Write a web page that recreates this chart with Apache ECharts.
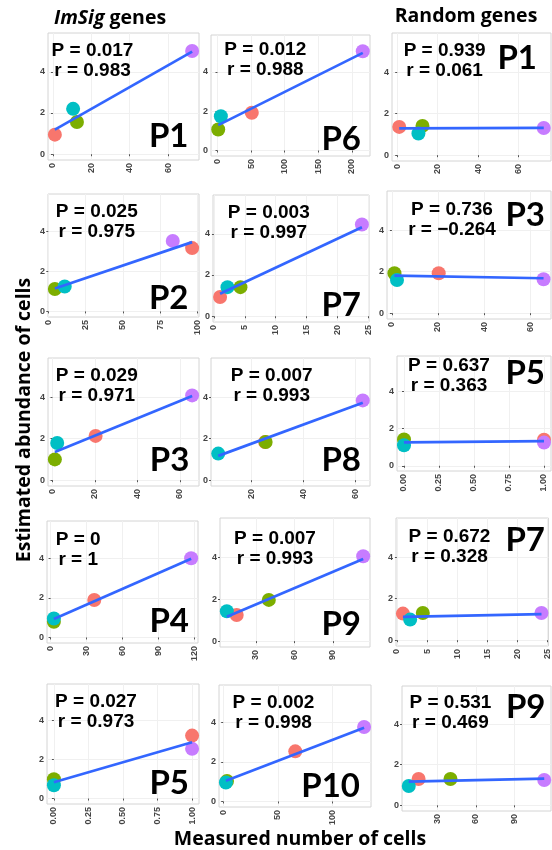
<!DOCTYPE html>
<html>
<head>
<meta charset="utf-8">
<script src="https://cdn.jsdelivr.net/npm/echarts@6/dist/echarts.min.js"></script>
<style>html,body{margin:0;padding:0;background:#fff}#c{width:552px;height:850px}</style>
</head>
<body>
<div id="c"></div>
<script>
// ---------------- DATA ----------------
// point order in every panel: [red, green, cyan, purple]
const pointColors = ['#F8766D', '#7CAE00', '#00BFC4', '#C77CFF'];

// measured number of cells (x) per patient
const measuredP1  = [1.0, 12.5, 10.5, 72.5];
const measuredP2  = [96.5, 4.4, 11.0, 83.5];
const measuredP3  = [20.3, 1.1, 2.2, 65.8];
const measuredP4  = [36.5, 2.7, 2.7, 117.5];
const measuredP5  = [1, 0, 0, 1];
const measuredP6  = [51, 1.1, 5, 216];
const measuredP7  = [1.0, 4.3, 2.2, 24.0];
const measuredP8  = [25.2, 25.4, 7.1, 62.9];
const measuredP9  = [15, 40, 7.3, 113.5];
const measuredP10 = [66, 3.5, 2.5, 129];

// estimated abundance (y), ImSig genes
const imsigP1  = [0.95, 1.56, 2.20, 5.01];
const imsigP2  = [3.17, 1.12, 1.25, 3.53];
const imsigP3  = [2.13, 1.00, 1.79, 4.08];
const imsigP4  = [1.89, 0.79, 0.96, 4.00];
const imsigP5  = [3.23, 0.99, 0.68, 2.55];
const imsigP6  = [1.92, 1.07, 1.74, 5.05];
const imsigP7  = [0.93, 1.41, 1.41, 4.45];
const imsigP8  = [1.84, 1.84, 1.28, 3.84];
const imsigP9  = [1.25, 1.97, 1.43, 4.05];
const imsigP10 = [2.53, 1.03, 0.96, 3.76];

// fitted line ends (y at min x, y at max x), ImSig genes
const imsigFitP1  = [1.19, 4.98];
const imsigFitP2  = [1.15, 3.47];
const imsigFitP3  = [1.36, 4.05];
const imsigFitP4  = [0.93, 3.97];
const imsigFitP5  = [0.835, 2.89];
const imsigFitP6  = [1.29, 4.97];
const imsigFitP7  = [1.09, 4.32];
const imsigFitP8  = [1.17, 3.73];
const imsigFitP9  = [1.17, 3.92];
const imsigFitP10 = [1.05, 3.72];

// estimated abundance (y), Random genes
const randomP1 = [1.36, 1.41, 1.04, 1.31];
const randomP3 = [1.92, 1.92, 1.60, 1.63];
const randomP5 = [1.40, 1.41, 1.10, 1.24];
const randomP7 = [1.28, 1.31, 0.99, 1.31];
const randomP9 = [1.30, 1.30, 0.955, 1.25];

const randomFitP1 = [1.29, 1.31];
const randomFitP3 = [1.81, 1.68];
const randomFitP5 = [1.255, 1.32];
const randomFitP7 = [1.12, 1.25];
const randomFitP9 = [1.17, 1.32];

const imsigPatients = ['P1','P2','P3','P4','P5','P6','P7','P8','P9','P10'];
const imsigPValues = ['0.017','0.025','0.029','0','0.027','0.012','0.003','0.007','0.007','0.002'];
const imsigRValues = ['0.983','0.975','0.971','1','0.973','0.988','0.997','0.993','0.993','0.998'];
const randomPatients = ['P1','P3','P5','P7','P9'];
const randomPValues = ['0.939','0.736','0.637','0.672','0.531'];
const randomRValues = ['0.061','\u22120.264','0.363','0.328','0.469'];

// x tick values per patient
const xTicksP1  = [0, 20, 40, 60];
const xTicksP2  = [0, 25, 50, 75, 100];
const xTicksP3  = [0, 20, 40, 60];
const xTicksP4  = [0, 30, 60, 90, 120];
const xTicksP5  = [0, 0.25, 0.5, 0.75, 1];
const xTicksP6  = [0, 50, 100, 150, 200];
const xTicksP7  = [0, 5, 10, 15, 20, 25];
const xTicksP8  = [20, 40, 60];
const xTicksP9  = [30, 60, 90];
const xTicksP10 = [0, 50, 100];
const yTicks = [0, 2, 4];
const yLimits = [0, 5.6];

const titleImsig = 'ImSig';
const titleGenes = ' genes';
const titleRandom = 'Random genes';
const xTitle = 'Measured number of cells';
const yTitle = 'Estimated abundance of cells';

// ---------------- LOOKUPS ----------------
const measured = {P1:measuredP1,P2:measuredP2,P3:measuredP3,P4:measuredP4,P5:measuredP5,P6:measuredP6,P7:measuredP7,P8:measuredP8,P9:measuredP9,P10:measuredP10};
const xTicks = {P1:xTicksP1,P2:xTicksP2,P3:xTicksP3,P4:xTicksP4,P5:xTicksP5,P6:xTicksP6,P7:xTicksP7,P8:xTicksP8,P9:xTicksP9,P10:xTicksP10};
const imsigEst = {P1:imsigP1,P2:imsigP2,P3:imsigP3,P4:imsigP4,P5:imsigP5,P6:imsigP6,P7:imsigP7,P8:imsigP8,P9:imsigP9,P10:imsigP10};
const imsigFit = {P1:imsigFitP1,P2:imsigFitP2,P3:imsigFitP3,P4:imsigFitP4,P5:imsigFitP5,P6:imsigFitP6,P7:imsigFitP7,P8:imsigFitP8,P9:imsigFitP9,P10:imsigFitP10};
const randomEst = {P1:randomP1,P3:randomP3,P5:randomP5,P7:randomP7,P9:randomP9};
const randomFit = {P1:randomFitP1,P3:randomFitP3,P5:randomFitP5,P7:randomFitP7,P9:randomFitP9};

// ---------------- LAYOUT ----------------
// [left, top, right, bottom, statsX, statsLine1Y, labelRight, labelY]
const layout = [
  [48, 33, 199, 160,  92.5, 50.3, 188.5, 136.5],
  [211, 35, 370, 156, 265.3, 50.0, 361, 139],
  [392, 33, 551, 161, 444.6, 50.3, 537, 58.3],
  [48, 194, 199, 317,  96.8, 212, 188.5, 298.7],
  [213, 195, 369, 322, 268.8, 213, 361, 305],
  [387, 191, 551, 319, 452, 210, 545, 215],
  [48, 358, 199, 486,  96.8, 375.3, 189.4, 460.3],
  [211, 358, 370, 486, 271.7, 375.3, 361, 460.5],
  [397, 356, 551, 471, 449, 365.3, 545, 373.3],
  [47, 521, 198, 643,  78.2, 540, 189, 621],
  [220, 518, 370, 647, 275, 538.3, 361, 624],
  [396, 518, 551, 646, 449.5, 537, 545, 540.7],
  [47, 684, 199, 804,  96, 701.7, 189, 783],
  [219, 685, 371, 807, 273.5, 702.5, 360, 786],
  [402, 686, 551, 811, 450.4, 702.5, 545.5, 707.5]
];

const panels = [];
for (let r = 0; r < 5; r++) {
  panels.push({kind:'imsig', idx:r});
  panels.push({kind:'imsig', idx:r + 5});
  panels.push({kind:'random', idx:r});
}

const grids = [], xAxes = [], yAxes = [], series = [], graphics = [];
const statFont = 'bold 19px "Liberation Sans", Arial, sans-serif';
const labelFont = 'bold 33px Lato, "Open Sans", sans-serif';
const tickFont = {fontFamily:'"Liberation Sans", Arial, sans-serif', fontWeight:'bold', fontSize:9, color:'#444'};

const yExp = (yLimits[1] - yLimits[0]) * 0.05;

panels.forEach((p, i) => {
  const L = layout[i];
  const pid = p.kind === 'imsig' ? imsigPatients[p.idx] : randomPatients[p.idx];
  const xs = measured[pid];
  const ys = p.kind === 'imsig' ? imsigEst[pid] : randomEst[pid];
  const fit = p.kind === 'imsig' ? imsigFit[pid] : randomFit[pid];
  const pv = p.kind === 'imsig' ? imsigPValues[p.idx] : randomPValues[p.idx];
  const rv = p.kind === 'imsig' ? imsigRValues[p.idx] : randomRValues[p.idx];
  const xmin = Math.min(...xs), xmax = Math.max(...xs);
  const exp = (xmax - xmin) * 0.05;
  const ticks = xTicks[pid];
  const dec = pid === 'P5' ? 2 : 0;

  grids.push({left:L[0], top:L[1], width:L[2]-L[0], height:L[3]-L[1], show:true,
    borderColor:'#D4D4D4', borderWidth:1, backgroundColor:'#fff', containLabel:false});
  xAxes.push({type:'value', gridIndex:i, min:xmin-exp, max:xmax+exp,
    axisLine:{show:false},
    axisTick:{show:true, length:2, lineStyle:{color:'#555'}, customValues:ticks},
    axisLabel:{customValues:ticks, rotate:90, margin:3, ...tickFont,
      formatter:v => Number(v).toFixed(dec)},
    splitLine:{show:true, lineStyle:{color:'#F0F0F0', width:1}}});
  yAxes.push({type:'value', gridIndex:i, min:yLimits[0]-yExp, max:yLimits[1]+yExp,
    axisLine:{show:false},
    axisTick:{show:true, length:2, lineStyle:{color:'#555'}, customValues:yTicks},
    axisLabel:{customValues:yTicks, margin:3, ...tickFont},
    splitLine:{show:true, lineStyle:{color:'#F0F0F0', width:1}}});

  series.push({type:'scatter', xAxisIndex:i, yAxisIndex:i, symbolSize:14, z:2, silent:true,
    data: xs.map((x, k) => ({value:[x, ys[k]], itemStyle:{color:pointColors[k], opacity:1}}))});
  series.push({type:'line', xAxisIndex:i, yAxisIndex:i, z:3, silent:true, showSymbol:false, symbol:'none',
    lineStyle:{color:'#3366FF', width:2.7},
    data:[[xmin, fit[0]], [xmax, fit[1]]]});

  graphics.push({type:'text', x:L[4], y:L[5] + 10, z:10, silent:true,
    style:{text:'P = ' + pv + '\nr = ' + rv, font:statFont, fill:'#000',
      align:'center', verticalAlign:'middle', lineHeight:20}});
  graphics.push({type:'text', x:L[6], y:L[7], z:10, silent:true,
    style:{text:pid, font:labelFont, fill:'#000', align:'right', verticalAlign:'middle'}});
});

const titleFamily = '"Open Sans", Lato, sans-serif';
graphics.push({type:'text', x:110, y:18, silent:true,
  style:{text:'{i|' + titleImsig + '}{n|' + titleGenes + '}', align:'center', verticalAlign:'middle',
    rich:{i:{fontFamily:titleFamily, fontWeight:'bold', fontStyle:'italic', fontSize:19.5, fill:'#000'},
          n:{fontFamily:titleFamily, fontWeight:'bold', fontSize:19.5, fill:'#000'}}}});
graphics.push({type:'text', x:466, y:16.8, silent:true,
  style:{text:titleRandom, font:'bold 19.5px ' + titleFamily, fill:'#000', align:'center', verticalAlign:'middle'}});
graphics.push({type:'text', x:300, y:839, silent:true,
  style:{text:xTitle, font:'bold 19.5px ' + titleFamily, fill:'#000', align:'center', verticalAlign:'middle'}});
graphics.push({type:'text', x:24, y:420, rotation:Math.PI/2, silent:true,
  style:{text:yTitle, font:'bold 19.5px ' + titleFamily, fill:'#000', align:'center', verticalAlign:'middle'}});

const chart = echarts.init(document.getElementById('c'), null, {renderer:'canvas'});
chart.setOption({
  animation:false,
  backgroundColor:'#fff',
  grid:grids, xAxis:xAxes, yAxis:yAxes, series:series, graphic:graphics
});
</script>
</body>
</html>
